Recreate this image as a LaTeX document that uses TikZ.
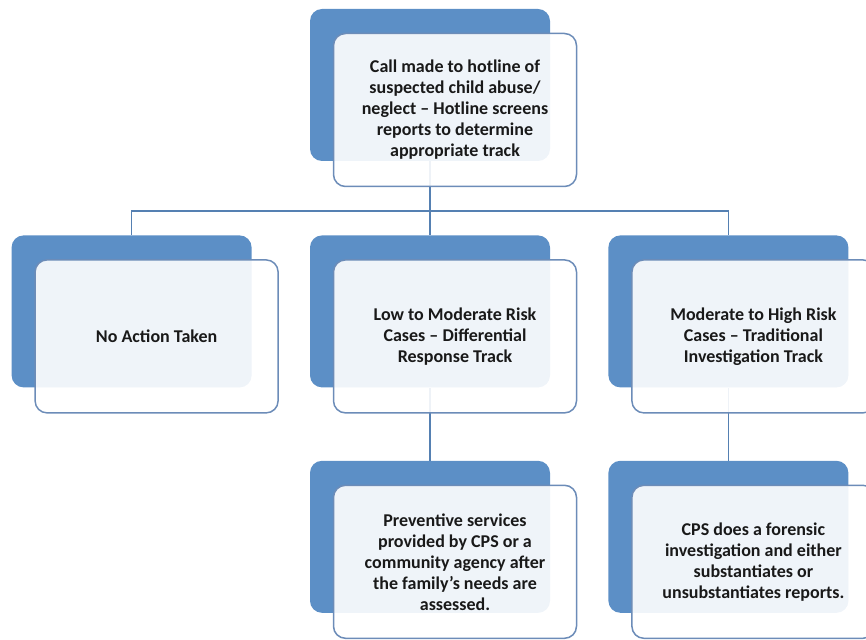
\documentclass[tikz,border=0pt]{standalone}
\usepackage{fontspec}
\setmainfont{Carlito}
\usepackage{xcolor}
\usetikzlibrary{positioning}

\definecolor{backblue}{RGB}{92,143,198}
\definecolor{edgeblue}{RGB}{108,140,184}
\definecolor{linkblue}{RGB}{85,128,178}

\begin{document}
\begin{tikzpicture}[
        x=1pt, y=1pt,
        node distance=74pt and 58pt,
        backbox/.style={rectangle, rounded corners=12pt, fill=backblue, draw=none, minimum width=240pt, minimum height=152pt},
        frontbox/.style={rectangle, rounded corners=12pt, fill=white, fill opacity=0.9, text opacity=1, draw=edgeblue, line width=1.5pt, align=center, minimum width=243pt, minimum height=153pt, font=\fontsize{18}{21}\selectfont\bfseries, text=black!90},
        link/.style={draw=linkblue, line width=1.4pt}
    ]

    \useasboundingbox (-430,85) rectangle (436,-554);

    % back layer
    \node[backbox] (hotlinebg) at (0,0) {};
    \node[backbox, below=of hotlinebg] (lowriskbg) {};
    \node[backbox, left=of lowriskbg] (noactionbg) {};
    \node[backbox, right=of lowriskbg] (highriskbg) {};
    \node[backbox, below=73pt of lowriskbg] (preventivebg) {};
    \node[backbox, below=73pt of highriskbg] (forensicbg) {};

    % connectors
    \coordinate (split) at ([yshift=-50pt]hotlinebg.south);
    \draw[link] (hotlinebg.south) -- (split);
    \draw[link] (noactionbg.north) |- (split) -| (highriskbg.north);
    \draw[link] (split) -- (lowriskbg.north);
    \draw[link] (lowriskbg.south) -- (preventivebg.north);
    \draw[link] (highriskbg.south) -- (forensicbg.north);

    % front layer
    \node[frontbox, xshift=25pt, yshift=-25pt] (hotline) at (hotlinebg) {Call made to hotline of\\
        suspected child abuse/\\
        neglect -- Hotline screens\\
        reports to determine\\
        appropriate track};
    \node[frontbox, xshift=25pt, yshift=-25pt] (noaction) at (noactionbg) {No Action Taken};
    \node[frontbox, xshift=25pt, yshift=-25pt] (lowrisk) at (lowriskbg) {Low to Moderate Risk\\
        Cases -- Differential\\
        Response Track};
    \node[frontbox, xshift=25pt, yshift=-25pt] (highrisk) at (highriskbg) {Moderate to High Risk\\
        Cases -- Traditional\\
        Investigation Track};
    \node[frontbox, xshift=25pt, yshift=-25pt] (preventive) at (preventivebg) {Preventive services\\
        provided by CPS or a\\
        community agency after\\
        the family’s needs are\\
        assessed.};
    \node[frontbox, xshift=25pt, yshift=-25pt] (forensic) at (forensicbg) {CPS does a forensic\\
        investigation and either\\
        substantiates or\\
        unsubstantiates reports.};

\end{tikzpicture}
\end{document}
